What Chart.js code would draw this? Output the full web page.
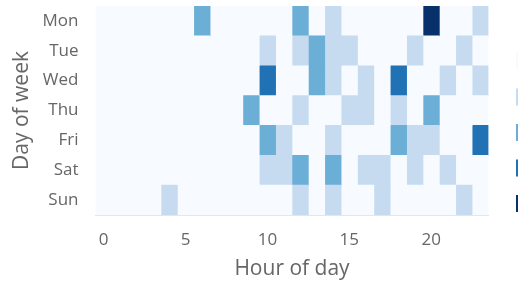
<!DOCTYPE html>
<html><head><meta charset="utf-8">
<script src="https://cdn.jsdelivr.net/npm/chart.js@4/dist/chart.umd.min.js"></script>
<style>html,body{margin:0;padding:0;background:#fff;overflow:hidden}#wrap{width:558px;height:283px;position:relative}</style>
</head><body><div id="wrap"><canvas id="c"></canvas></div>
<script>
const days = ['Mon','Tue','Wed','Thu','Fri','Sat','Sun'];
const hours = [0,1,2,3,4,5,6,7,8,9,10,11,12,13,14,15,16,17,18,19,20,21,22,23];
const xTicks = [0,5,10,15,20];
const mon = [0,0,0,0,0,0,2,0,0,0,0,0,2,0,1,0,0,0,0,0,4,0,0,1];
const tue = [0,0,0,0,0,0,0,0,0,0,1,0,1,2,1,1,0,0,0,1,0,0,1,0];
const wed = [0,0,0,0,0,0,0,0,0,0,3,0,0,2,1,0,1,0,3,0,0,1,0,1];
const thu = [0,0,0,0,0,0,0,0,0,2,0,0,1,0,0,1,1,0,1,0,2,0,0,0];
const fri = [0,0,0,0,0,0,0,0,0,0,2,1,0,0,1,0,0,0,2,1,1,0,0,3];
const sat = [0,0,0,0,0,0,0,0,0,0,1,1,2,0,2,0,1,1,0,1,0,1,0,0];
const sun = [0,0,0,0,1,0,0,0,0,0,0,0,1,0,1,0,0,1,0,0,0,0,1,0];
const levels = [0,1,2,3,4];
const levelColors = ['#f7fbff','#c6dbef','#6baed6','#2171b5','#08306b'];

const rows = [mon,tue,wed,thu,fri,sat,sun];
const datasets = hours.map(h => ({
  data: days.map(() => [h - 0.5, h + 0.5]),
  backgroundColor: rows.map(r => levelColors[r[h]]),
  borderWidth: 0,
  grouped: false,
  categoryPercentage: 1,
  barPercentage: 1
}));

const txt = '#666';
const fam = 'Open Sans';
new Chart(document.getElementById('c'), {
  type: 'bar',
  data: { labels: days, datasets },
  options: {
    indexAxis: 'y',
    responsive: true,
    maintainAspectRatio: false,
    animation: false,
    layout: { padding: { top: 6, bottom: 1, left: 3, right: 0 } },
    plugins: {
      tooltip: { enabled: false },
      legend: {
        position: 'right',
        align: 'start',
        title: { display: true, text: ' ', padding: 0, font: { family: fam, size: 28.5, lineHeight: 1 } },
        labels: {
          boxWidth: 17, boxHeight: 17, padding: 18.5,
          font: { family: fam, size: 14 }, color: txt,
          generateLabels: () => levels.map((v, i) => ({
            text: String(v), fillStyle: levelColors[i], strokeStyle: levelColors[i], lineWidth: 0, hidden: false, datasetIndex: i
          }))
        },
        onClick: null
      }
    },
    scales: {
      x: {
        type: 'linear', min: -0.5, max: 23.5,
        afterBuildTicks: s => { s.ticks = xTicks.map(v => ({ value: v })); },
        grid: { display: false, drawTicks: false },
        border: { display: true, color: '#e6e6e6' },
        ticks: { color: txt, font: { family: fam, size: 17 }, padding: 15, maxRotation: 0 },
        title: { display: true, text: 'Hour of day', color: txt, font: { family: fam, size: 21 }, padding: { top: 7, bottom: 0 } },
        afterFit: s => { s.height = 67; }
      },
      y: {
        type: 'category', offset: true,
        grid: { display: false, drawTicks: false },
        border: { display: false },
        ticks: { color: txt, font: { family: fam, size: 17 }, padding: 17 },
        title: { display: true, text: 'Day of week', color: txt, font: { family: fam, size: 21 }, padding: 6 },
        afterFit: s => { s.paddingTop = 0; s.paddingBottom = 0; }
      },
      yr: {
        type: 'linear', position: 'right', display: true,
        grid: { display: false, drawTicks: false }, border: { display: false },
        ticks: { display: false },
        afterFit: s => { s.width = 9; }
      }
    }
  }
});
</script>
</body></html>
